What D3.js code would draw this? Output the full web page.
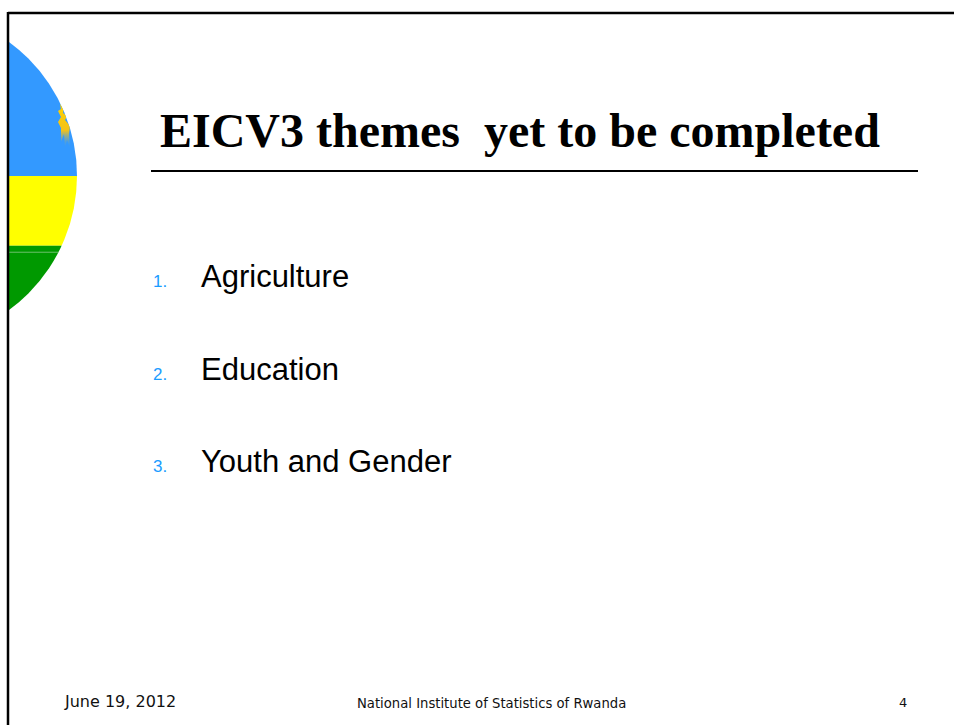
<!DOCTYPE html>
<html>
<head>
<meta charset="utf-8">
<script src="https://cdn.jsdelivr.net/npm/d3@7"></script>
<style>
  html, body { margin: 0; padding: 0; background: #fff; }
  svg { display: block; }
</style>
</head>
<body>
<svg id="slide"></svg>
<script>
'use strict';

// slide content
var title = "EICV3 themes  yet to be completed";
var itemNumbers = ["1.", "2.", "3."];
var itemLabels = ["Agriculture", "Education", "Youth and Gender"];
var footerDate = "June 19, 2012";
var footerSource = "National Institute of Statistics of Rwanda";
var pageNumber = "4";

// flag stripes (share of the disc height, top to bottom)
var stripeNames = ["blue", "yellow", "green"];
var stripeShares = [0.50, 0.21, 0.29];
var stripeColors = ["#3399ff", "#ffff00", "#009900"];

var width = 954, height = 725;
var svg = d3.select("#slide").attr("width", width).attr("height", height);

// flag disc, cut off by the left frame line
var disc = { cx: -89, cy: 176, r: 166 };
var defs = svg.append("defs");
defs.append("clipPath").attr("id", "discClip")
  .append("circle").attr("cx", disc.cx).attr("cy", disc.cy).attr("r", disc.r);
defs.append("clipPath").attr("id", "frameClip")
  .append("rect").attr("x", 9).attr("y", 0).attr("width", width).attr("height", height);

var sunGrad = defs.append("linearGradient").attr("id", "sunGrad")
  .attr("x1", 0).attr("y1", 0).attr("x2", 0).attr("y2", 1);
sunGrad.append("stop").attr("offset", "0%").attr("stop-color", "#ffd200");
sunGrad.append("stop").attr("offset", "60%").attr("stop-color", "#f2c21a");
sunGrad.append("stop").attr("offset", "100%").attr("stop-color", "#3399ff").attr("stop-opacity", 0.2);

var stripeY = d3.scaleLinear().domain([0, 1]).range([disc.cy - disc.r, disc.cy + disc.r]);
var cum = d3.cumsum(stripeShares);
var flag = svg.append("g").attr("clip-path", "url(#frameClip)")
  .append("g").attr("clip-path", "url(#discClip)");
flag.selectAll("rect.stripe")
  .data(stripeNames)
  .join("rect")
  .attr("class", "stripe")
  .attr("x", disc.cx - disc.r)
  .attr("y", function(d, i) { return stripeY(i ? cum[i - 1] : 0); })
  .attr("width", disc.r * 2)
  .attr("height", function(d, i) { return stripeY(cum[i]) - stripeY(i ? cum[i - 1] : 0); })
  .attr("fill", function(d, i) { return stripeColors[i]; });

// thin light line inside the green stripe
flag.append("rect")
  .attr("x", disc.cx - disc.r).attr("y", stripeY(cum[1]) + 6)
  .attr("width", disc.r * 2).attr("height", 1)
  .attr("fill", "#6cbf6c");

// little sun in the blue stripe
var sun = flag.append("g").attr("transform", "translate(58,104)");
sun.append("path")
  .attr("d", "M2,0 L6,4 L5,9 L9,12 L7,16 L12,22 L11,30 L12,44 L9,36 L7,44 L6,30 L3,38 L3,24 L0,18 L3,13 L0,7 L3,5 Z")
  .attr("fill", "url(#sunGrad)");

// frame: top and left lines
svg.append("line").attr("x1", 8).attr("y1", 13).attr("x2", width).attr("y2", 13)
  .attr("stroke", "#000").attr("stroke-width", 2.5);
svg.append("line").attr("x1", 8).attr("y1", 12).attr("x2", 8).attr("y2", height)
  .attr("stroke", "#000").attr("stroke-width", 2.5);

// title
svg.append("text")
  .attr("x", 160).attr("y", 147)
  .attr("font-family", "'Liberation Serif', 'Times New Roman', serif")
  .attr("font-weight", "bold")
  .attr("font-size", 48)
  .style("white-space", "pre")
  .attr("fill", "#000")
  .text(title);

svg.append("line").attr("x1", 151).attr("x2", 918).attr("y1", 171).attr("y2", 171)
  .attr("stroke", "#000").attr("stroke-width", 2);

// numbered list
var yItem = d3.scalePoint().domain(itemLabels).range([287, 472]);
var items = svg.append("g").selectAll("g.item")
  .data(itemLabels)
  .join("g")
  .attr("class", "item")
  .attr("transform", function(d) { return "translate(0," + yItem(d) + ")"; });

items.append("text")
  .attr("x", 153)
  .attr("font-family", "'Liberation Sans', Arial, sans-serif")
  .attr("font-size", 17)
  .attr("fill", "#1a9cff")
  .text(function(d, i) { return itemNumbers[i]; });

items.append("text")
  .attr("x", 201)
  .attr("font-family", "'Liberation Sans', Arial, sans-serif")
  .attr("font-size", 31)
  .attr("fill", "#000")
  .text(function(d) { return d; });

// footer
var footer = svg.append("g")
  .attr("font-family", "'DejaVu Sans', Verdana, sans-serif")
  .attr("fill", "#111");
footer.append("text").attr("x", 65).attr("y", 707).attr("font-size", 16).text(footerDate);
footer.append("text").attr("x", 357).attr("y", 708).attr("font-size", 13.2).text(footerSource);
footer.append("text").attr("x", 899).attr("y", 707).attr("font-size", 13).text(pageNumber);
</script>
</body>
</html>
